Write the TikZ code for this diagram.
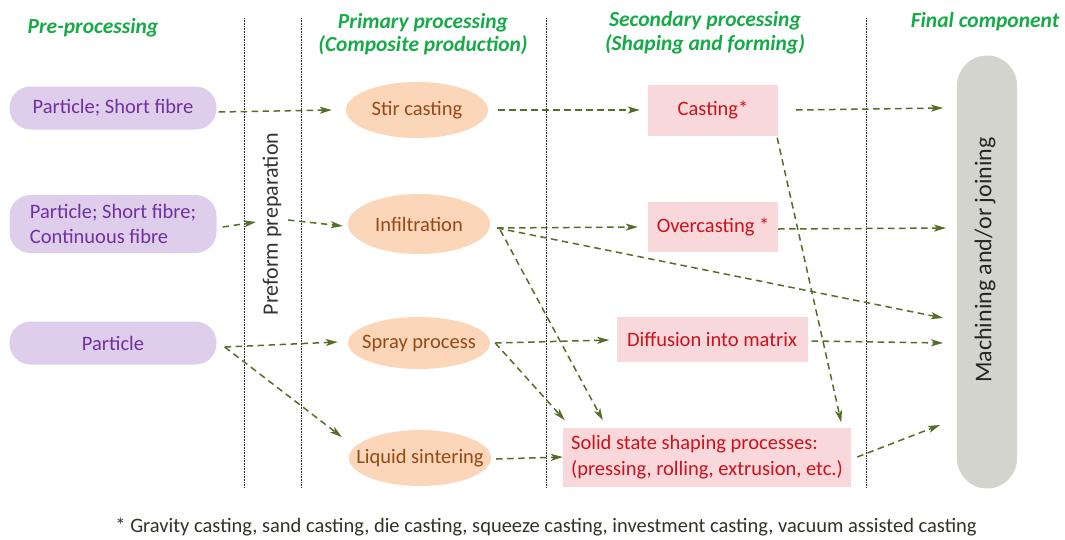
\documentclass[tikz,border=0pt]{standalone}
\usepackage{fontspec}
\setmainfont{Carlito}
\usetikzlibrary{arrows.meta,calc,shapes.geometric}
\definecolor{hdr}{RGB}{22,170,72}
\definecolor{purfill}{RGB}{222,206,236}
\definecolor{purtext}{RGB}{112,48,160}
\definecolor{orfill}{RGB}{251,214,184}
\definecolor{ortext}{RGB}{150,72,22}
\definecolor{pkfill}{RGB}{248,216,218}
\definecolor{pktext}{RGB}{204,18,28}
\definecolor{grfill}{RGB}{212,212,206}
\definecolor{arr}{RGB}{84,110,40}
\definecolor{foot}{RGB}{50,50,40}
\newcommand{\zw}[1]{\makebox[0pt]{#1}}
\tikzset{
  hdrtext/.style={text=hdr, font=\fontsize{21.5}{23.5}\selectfont\bfseries\itshape, align=center, inner sep=0},
  prebox/.style={rounded corners=21pt, fill=purfill, text=purtext, minimum width=207pt, font=\fontsize{20.5}{25}\selectfont, inner sep=0},
  primell/.style={ellipse, fill=orfill, text=ortext, minimum width=142pt, minimum height=56pt, font=\fontsize{20.5}{24}\selectfont, inner sep=0},
  secbox/.style={fill=pkfill, text=pktext, font=\fontsize{20.5}{26}\selectfont, inner sep=0},
  divider/.style={dash pattern=on 1pt off 0.6pt, line width=0.9pt, black!85},
  flow/.style={draw=arr, line width=1.5pt, dash pattern=on 6.5pt off 4.5pt, -{Stealth[length=12pt,width=7pt,inset=3pt]}},
}
\begin{document}
\begin{tikzpicture}[x=1pt,y=-1pt]
\useasboundingbox (0,0) rectangle (1065,539);
% dividers
\draw[divider] (244,18) -- (244,487);
\draw[divider] (301,18) -- (301,487);
\draw[divider] (546,18) -- (546,487);
\draw[divider] (866,18) -- (866,487);
% headers
\node[hdrtext] (h1) at (93,28) {Pre-processing};
\node[hdrtext] (h2) at (423,34) {Primary processing\\(Composite production)};
\node[hdrtext] (h3) at (705,33) {Secondary processing\\(Shaping and forming)};
\node[hdrtext] (h4) at (985,22) {Final component};
% pre-processing boxes
\node[prebox, minimum height=43pt] (p1) at (113,108) {Particle; Short fibre};
\node[prebox, minimum height=58pt, align=left] (p2) at (113,224) {Particle; Short fibre;\\Continuous fibre};
\node[prebox, minimum height=43pt] (p3) at (113,343) {Particle};
% preform
\node[rotate=90, font=\fontsize{22}{24}\selectfont, text=black!80, inner sep=0] (pf) at (272,224) {Preform preparation};
% primary
\node[primell] (e1) at (417,110) {\zw{Stir casting}};
\node[primell, minimum height=60pt] (e2) at (419,224) {\zw{Infiltration}};
\node[primell, minimum height=52pt] (e3) at (419,343) {\zw{Spray process}};
\node[primell] (e4) at (420,458) {\zw{Liquid sintering}};
% secondary
\node[secbox, minimum width=130pt, minimum height=51pt] (s1) at (713,110) {Casting*};
\node[secbox, minimum width=130pt, minimum height=50pt] (s2) at (713,227) {Overcasting *};
\node[secbox, minimum width=191pt, minimum height=45pt] (s3) at (712,339) {Diffusion into matrix};
\node[secbox, minimum width=288pt, minimum height=59pt, align=left] (s4) at (707,457) {Solid state shaping processes:\\(pressing, rolling, extrusion, etc.)};
% final
\node[rounded corners=30pt, fill=grfill, minimum width=60pt, minimum height=433pt, inner sep=0] (m) at (987,272) {};
\node[rotate=90, font=\fontsize{24}{26}\selectfont, text=black!85, inner sep=0] (mt) at (985,260) {Machining and/or joining};
% footnote
\node[font=\fontsize{20.5}{22}\selectfont, text=foot, inner sep=0] (fn) at (546,527) {* Gravity casting, sand casting, die casting, squeeze casting, investment casting, vacuum assisted casting};
% target points on final component
\coordinate (m1) at (943,108);
\coordinate (m2) at (946,228);
\coordinate (m3) at (943,318);
\coordinate (m4) at (943,343);
\coordinate (m5) at (940,425);
\coordinate (pfin) at (256,222);
\coordinate (pfout) at (288,220);
% arrows
\draw[flow] ($(p1.east)+(2,4)$) -- ($(e1.west)+(-14,0)$);
\draw[flow] ($(e1.east)+(10,0)$) -- ($(s1.west)+(-8,0)$);
\draw[flow] ($(s1.east)+(18,0)$) -- (m1);
\draw[flow] ($(s1.south east)+(-1,2)$) -- ($(s4.north east)+(-10,-5)$);
\draw[flow] ($(p2.east)+(6,3)$) -- (pfin);
\draw[flow] (pfout) -- ($(e2.west)+(-5,2)$);
\draw[flow] ($(e2.east)+(7,4)$) -- ($(s2.west)+(-10,0)$);
\draw[flow] ($(s2.east)+(0,2)$) -- (m2);
\draw[flow] ($(e2.east)+(7,4)$) -- (m3);
\draw[flow] ($(e2.east)+(10,6)$) -- ($(s4.north west)+(40,-7)$);
\draw[flow] ($(p3.east)+(8,4)$) -- ($(e3.west)+(-10,-1)$);
\draw[flow] ($(p3.east)+(8,4)$) -- ($(e4.west)+(-7,-21)$);
\draw[flow] ($(e3.east)+(5,0)$) -- ($(s3.west)+(-7,1)$);
\draw[flow] ($(e3.east)+(5,0)$) -- ($(s4.north west)+(2,-7)$);
\draw[flow] ($(s3.east)+(4,2)$) -- (m4);
\draw[flow] ($(e4.east)+(5,1)$) -- ($(s4.west)+(0,0)$);
\draw[flow] ($(s4.east)+(6,0)$) -- (m5);
\end{tikzpicture}
\end{document}
